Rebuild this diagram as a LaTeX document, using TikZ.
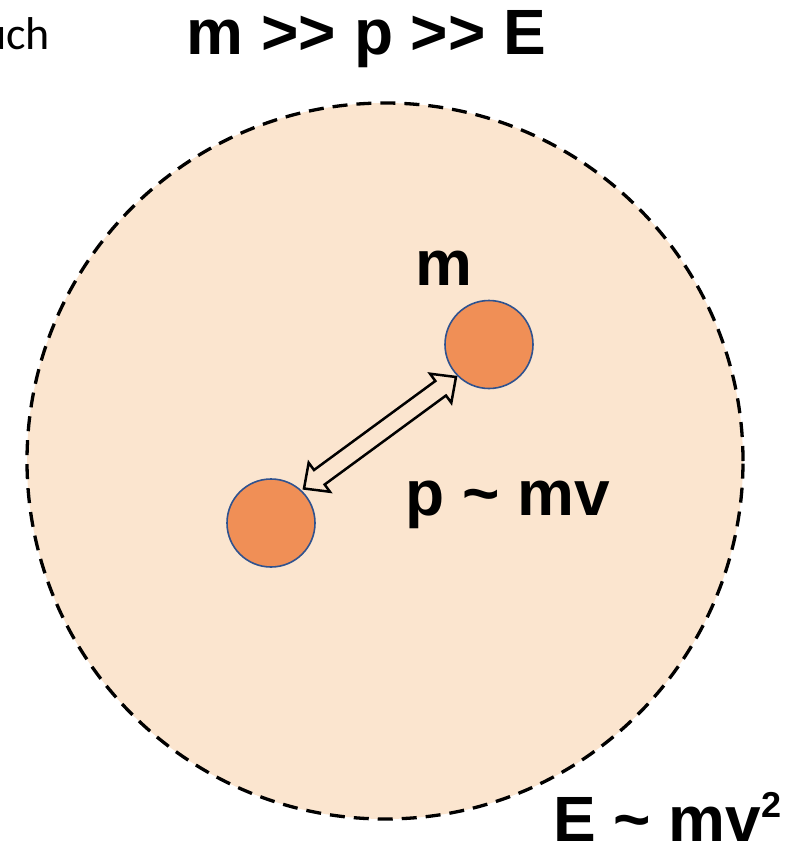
\documentclass[tikz,border=0pt]{standalone}
\usepackage{fontspec}
\setmainfont[Ligatures=NoCommon]{Liberation Sans}
\newfontfamily\calib{Carlito}
\usetikzlibrary{calc}
\definecolor{bgfill}{HTML}{FBE5CF}
\definecolor{ballfill}{HTML}{F08F56}
\definecolor{balledge}{HTML}{2F528F}
\tikzset{
  lbl/.style={inner sep=0pt, anchor=base, font=\fontsize{64}{70}\selectfont\bfseries},
  ball/.style={circle, draw=balledge, line width=1.6pt, fill=ballfill, minimum size=88pt, inner sep=0pt},
  region/.style={draw=black, line width=3.3pt, dash pattern=on 15pt off 9pt, fill=bgfill},
  hollowarrow/.style={draw=black, line width=2.5pt, fill=bgfill, line join=miter}
}
\begin{document}
\begin{tikzpicture}[x=1pt,y=-1pt]
\useasboundingbox (0,0) rectangle (805,848);
\draw[region] (385,461) circle (358pt);
\node[ball] (b1) at (489,344.5) {};
\node[ball] (b2) at (271,523) {};
\coordinate (A) at (304,488.5);
\coordinate (B) at (456,377);
\coordinate (a1) at ($(A)!19pt!(B)$);
\coordinate (b1p) at ($(B)!19pt!(A)$);
\draw[hollowarrow] (A)
  -- ($(a1)!18pt!90:(B)$) -- ($(a1)!9pt!90:(B)$)
  -- ($(b1p)!9pt!-90:(A)$) -- ($(b1p)!18pt!-90:(A)$)
  -- (B)
  -- ($(b1p)!18pt!90:(A)$) -- ($(b1p)!9pt!90:(A)$)
  -- ($(a1)!9pt!-90:(B)$) -- ($(a1)!18pt!-90:(B)$)
  -- cycle;
\node[lbl] (title) at (366.5,55) {m >{}> p >{}> E};
\node[lbl] (mlbl) at (444,285) {m};
\node[lbl] (plbl) at (508,515) {p \textasciitilde{} mv};
\node[lbl, anchor=base west] (elbl) at (553,841) {E \textasciitilde{} mv\raisebox{24pt}{\fontsize{36}{38}\selectfont\bfseries 2}};
\node[inner sep=0pt, anchor=base east, font=\calib\fontsize{46}{50}\selectfont] (uch) at (50,50) {uch};
\end{tikzpicture}
\end{document}
